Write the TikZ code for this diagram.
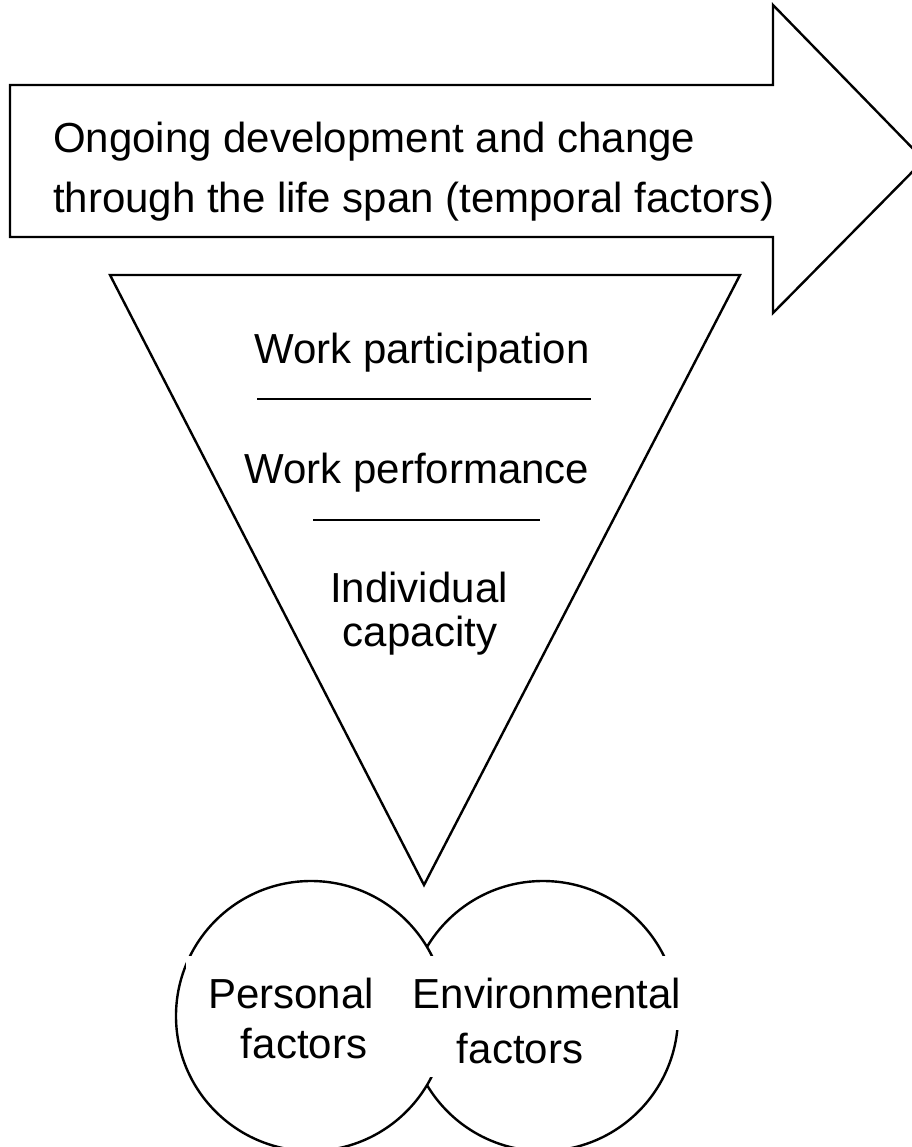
\documentclass[tikz,border=0pt]{standalone}
\usepackage{fontspec}
\setmainfont{Liberation Sans}
\tikzset{
  txt/.style={font=\fontsize{42}{50}\selectfont, inner sep=0pt, anchor=base},
  masktxt/.style={txt, fill=white, inner sep=22pt},
  ring/.style={circle, draw, minimum size=270pt, inner sep=0pt},
}
\begin{document}
\begin{tikzpicture}[x=1pt, y=-1pt, line width=2.4pt]
\useasboundingbox (0,0) rectangle (911,1147);
\draw (10,85) -- (773,85) -- (773,5) -- (924,160) -- (773,313)
-- (773,237) -- (10,237) -- cycle; % fleche, temps
\node[txt, anchor=base west] (lifeA) at (52,153) {Ongoing development and change};
\node[txt, anchor=base west] (lifeB) at (52,213) {through the life span (temporal factors)};
%
\draw (110,275) -- (740,275) -- (424,885) -- cycle; % triangle
\node[txt] (part) at (422,363) {Work participation};
\draw (257,399) -- (591,399);
\node[txt] (perf) at (417,483) {Work performance};
\draw (313,520) -- (540,520);
\node[txt] (capA) at (419,602) {Individual};
\node[txt] (capB) at (420,646) {capacity};
%
\node[ring] (envC) at (543,1016) {};
\node[ring, fill=white] (perC) at (311,1016) {}; % cercles
\node[masktxt] (perA) at (291,1008) {Personal};
\node[txt] (perB) at (304,1058) {factors};
\node[masktxt] (envA) at (547,1008) {Environmental};
\node[masktxt, inner ysep=14pt, minimum width=185pt] (envB) at (520,1063) {factors};
\end{tikzpicture}
\end{document}
